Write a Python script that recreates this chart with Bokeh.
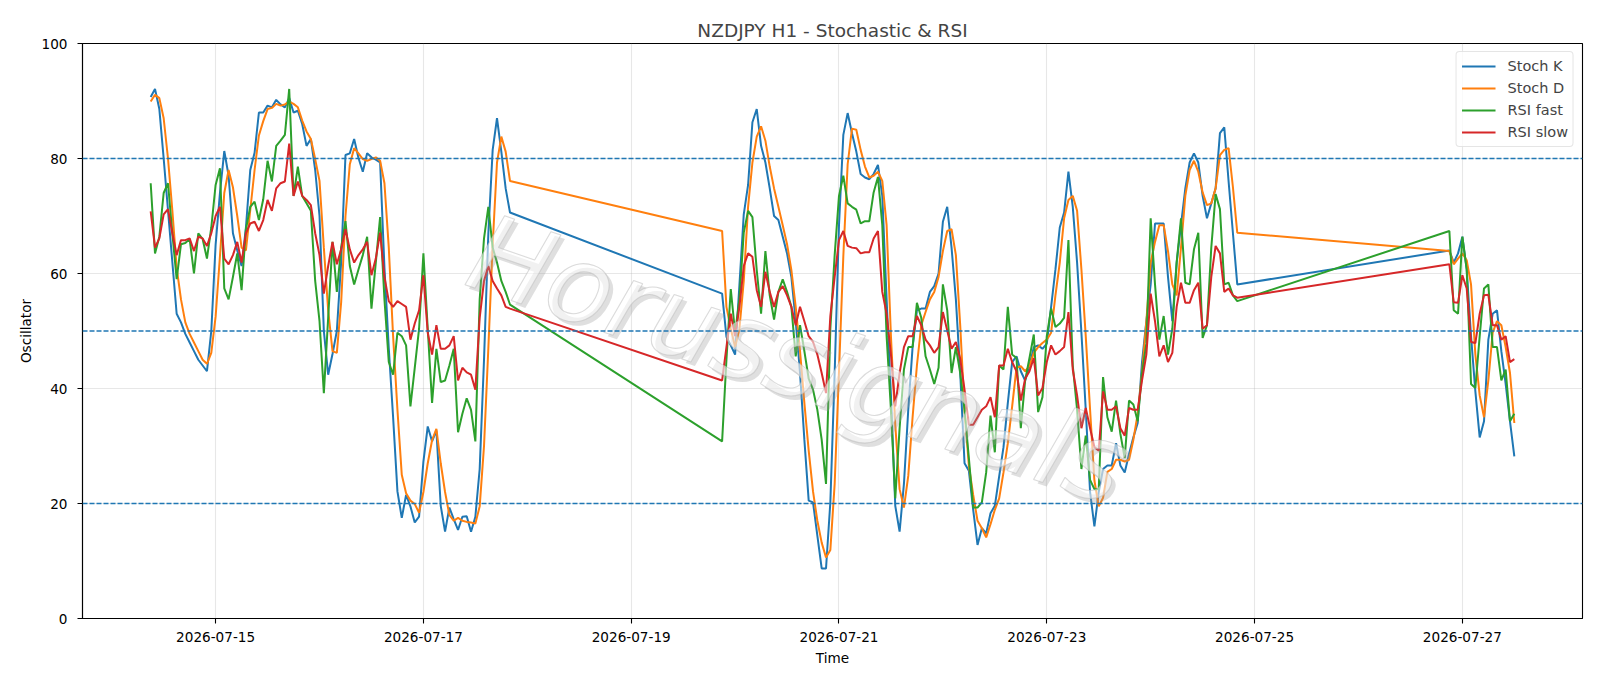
import numpy as np
import pandas as pd
from bokeh.plotting import figure
from bokeh.models import Span, FixedTicker, DatetimeTickFormatter, Range1d, ColumnDataSource
from bokeh.embed import file_html
from bokeh.resources import INLINE
from bokeh.core.properties import value

chart_title = "NZDJPY H1 - Stochastic & RSI"
x_label = "Time"
y_label = "Oscillator"
series_names = ["Stoch K", "Stoch D", "RSI fast", "RSI slow"]
series_colors = ["#1f77b4", "#ff7f0e", "#2ca02c", "#d62728"]
levels = [80, 50, 20]
x_tick_dates = ["2026-07-15", "2026-07-17", "2026-07-19", "2026-07-21",
                "2026-07-23", "2026-07-25", "2026-07-27"]
y_ticks = [0, 20, 40, 60, 80, 100]

# hourly bars, three trading stretches (weekends skipped)
segment_starts = ["2026-07-14 09:00", "2026-07-19 21:00", "2026-07-26 21:00"]
segment_lengths = [84, 120, 16]

stoch_k = [
    90.7, 92.1, 88.6, 80, 71, 62, 53, 51.5, 49.5, 48,
    46.5, 45, 44, 43, 50, 65, 74, 81.3, 77, 67,
    64, 61.3, 68, 78, 81, 88, 88, 89.2, 88.9, 90.2,
    89.4, 88.9, 90.5, 88, 88.3, 86, 82.2, 83.4, 78, 70,
    50, 42.4, 46, 50, 62, 80.6, 80.9, 83.4, 80.1, 77.7,
    80.9, 80.2, 79.8, 79.3, 61, 47, 35, 22.1, 17.5, 21.5,
    19.5, 16.7, 17.7, 27.3, 33.4, 30.8, 32.7, 19.6, 15.1, 19.3,
    17.3, 15.4, 17.7, 17.8, 15.1, 17.7, 26, 45, 67, 81.5,
    87, 81.2, 74.8, 70.6,
    56.5, 49, 47.5, 45.9, 58, 70.3, 75.4, 86.3, 88.6, 82.2,
    79.3, 74.8, 70, 69.3, 66.4, 63.5, 59.4, 51.7, 42.7, 31.1,
    20.5, 20.2, 14.4, 8.7, 8.7, 20.2, 42.7, 68.4, 84.1, 87.9,
    84.4, 81.2, 77.3, 76.7, 76.4, 77.3, 78.9, 73.5, 55.5, 38.8,
    19.6, 15.1, 23.4, 36.3, 47.2, 53.6, 53.9, 53.9, 56.8, 57.8,
    60, 69, 71.6, 64.5, 55.5, 42.7, 27, 25.7, 18.9, 12.8,
    15.7, 14.8, 18.3, 19.6, 24.7, 29.8, 37.5, 44.6, 45.6, 43,
    41.4, 43.9, 47.2, 47.5, 46.9, 47.8, 54.2, 60.7, 68, 70.6,
    77.7, 71.6, 61.9, 49.7, 36.3, 22, 16, 22, 26, 26.6,
    26.6, 30.5, 26.6, 25.4, 28.6, 31.5, 34, 44.6, 51.7, 58.1,
    68.7, 68.7, 68.7, 59.4, 51.7, 61.9, 68.4, 74.8, 79.3, 80.9,
    79.3, 73.5, 69.6, 72.2, 74.8, 84.4, 85.4, 76, 67, 58.1,
    64, 61.9, 63.5, 66.4, 60.7, 49.1, 39.5, 31.5, 34.3, 48.5,
    53, 53.6, 46.5, 40.8, 34.3, 28.2,
]

stoch_d = [
    89.9, 91.1, 90.5, 87, 80, 71, 61, 55.5, 51.5, 49.5,
    48, 46.5, 45, 44.3, 46.2, 52.5, 63, 74, 78, 75,
    70, 64.5, 64, 71, 78, 84, 86.5, 88.6, 88.8, 89.5,
    89.2, 89.4, 89.9, 89.5, 88.9, 86.6, 84.7, 83.4, 79.9, 76.1,
    64.5, 53.6, 46.5, 46.2, 55, 70, 79, 81.8, 80.9, 79.9,
    79.6, 79.9, 80.2, 79.6, 75.7, 64.5, 49.1, 36.3, 25, 21.8,
    20.5, 19.9, 18.4, 22, 27, 31, 33, 27, 22, 18,
    17, 17.5, 17, 16.8, 16.7, 16.5, 19.5, 30, 47, 65,
    79.3, 83.8, 81.2, 76.1,
    67.4, 54.2, 50.4, 47.2, 50.4, 58.7, 71.6, 79.3, 83.8, 85.6,
    83.1, 78.6, 74.8, 71.6, 68.4, 65.1, 60.6, 54.2, 46.5, 37.5,
    29.2, 22.1, 17, 13.2, 10.6, 11.9, 23.4, 43, 63, 79,
    85.2, 85, 81.5, 78.6, 76.7, 77, 77.7, 76.1, 68.4, 49.1,
    33.7, 22.5, 19.3, 24.8, 35, 44, 51, 53.3, 55.5, 56.8,
    59.4, 63.9, 67.4, 67.7, 63.2, 51, 36.3, 26.6, 21.5, 17,
    15.7, 14.1, 16.4, 18.9, 20.9, 25.4, 30.5, 36.9, 43.6, 43.9,
    43, 43.9, 46.2, 47.2, 47.9, 48.5, 49.7, 56.2, 61.9, 69.6,
    72.8, 73.5, 70.9, 60.7, 49.1, 36.3, 24, 19.5, 21, 25.5,
    26, 27.6, 27.6, 27.3, 27.6, 31.1, 35.6, 42.7, 51.7, 61.9,
    65.5, 68.4, 68.4, 63.9, 58.1, 56.2, 64.5, 73.5, 78, 79.6,
    77.7, 74.1, 71.9, 72.2, 74.8, 80.6, 81.5, 81.8, 75, 67.1,
    63.9, 61.6, 62.6, 63.5, 62.3, 58.1, 45.9, 38.8, 35, 41.4,
    49.7, 51.7, 51, 47.2, 42.7, 34,
]

rsi_fast = [
    75.7, 63.5, 66.4, 74, 75.7, 67, 59, 65.1, 65.3, 66,
    60, 67, 66, 62.6, 68, 75.4, 78.3, 57.4, 55.5, 59.4,
    63.5, 57.1, 67.7, 71.6, 72.5, 69.3, 72.9, 79.6, 76, 82.2,
    83.1, 84.1, 92.1, 73.5, 78.6, 73.5, 72.2, 70.9, 58.7, 51.7,
    39.2, 52.3, 65.5, 56.8, 64.5, 69.1, 61.3, 58.1, 60.7, 63.2,
    66.4, 53.9, 61.9, 69.8, 55.5, 44.6, 42.4, 49.7, 49.1, 47.5,
    36.9, 43.6, 50.4, 63.5, 50.4, 37.5, 46.9, 41.1, 41.4, 44,
    46.9, 32.4, 35.6, 38.3, 36.3, 30.8, 55.5, 66.1, 71.6, 64.5,
    61.9, 58.7, 56.8, 54.6,
    30.8, 45, 57.3, 49.7, 55.5, 67.1, 70.9, 69.8, 60.6, 53,
    63.9, 56.2, 52, 56.8, 59, 56.8, 54.2, 45.6, 51, 46.5,
    41.7, 39.8, 36.3, 31.1, 23.4, 50.4, 63.2, 73.5, 77, 72.2,
    71.6, 71.1, 68.7, 69.1, 69.1, 74.1, 76.8, 68.4, 49.1, 36.3,
    20.9, 33.1, 43.3, 47.2, 47.2, 54.9, 52.3, 45.6, 43.3, 40.8,
    43.6, 58.1, 53.6, 42.7, 47.2, 42.7, 36.3, 27.9, 19.3, 19.3,
    20.2, 25.4, 35.3, 28.9, 44, 43.3, 54.2, 45.9, 45.3, 33.1,
    41.4, 45.3, 49.4, 35.9, 38.5, 49.1, 53.9, 50.7, 51.3, 52.3,
    65.8, 44, 36.3, 26, 31.8, 24.1, 22.5, 22.5, 42, 35,
    32.5, 37.9, 32.1, 27.9, 37.9, 37.2, 34.3, 42.7, 47.8, 69.6,
    58.1, 48.5, 52.6, 45.9, 50.4, 61.9, 69.6, 58.4, 58.1, 64.2,
    67.1, 48.8, 51, 64.5, 73.8, 71.2, 58.1, 58.4, 56.2, 55.2,
    67.4, 53.6, 53, 66.4, 60.7, 40.8, 40.1, 49.1, 57.4, 58.1,
    47.2, 47.2, 41.4, 43.3, 34.3, 35.6,
]

rsi_slow = [
    70.8, 64.5, 66.1, 70.3, 71.2, 67, 63.2, 65.8, 65.8, 66.1,
    63.9, 66.4, 66.1, 64.8, 67, 70, 71.6, 62.6, 61.6, 63.2,
    65.5, 61.9, 67, 68.7, 69, 67.4, 69.3, 72.8, 70.9, 74.8,
    75.7, 76, 82.6, 73.5, 76, 73.5, 72.8, 71.9, 67, 63.2,
    56.5, 61.3, 65.5, 61.6, 64.2, 67.7, 64.2, 61.9, 63.2, 64.2,
    65.5, 59.7, 62.6, 67.1, 59.4, 55.2, 54.2, 55.2, 54.7, 54.2,
    48.5, 51.3, 53.6, 59.7, 49.7, 45.9, 51, 46.9, 46.9, 47.5,
    49.1, 41.4, 43.6, 42.8, 42.4, 39.8, 52.3, 58.7, 61.3, 58.7,
    57.4, 56.2, 54.2, 53.9,
    41.4, 47.2, 53, 49.1, 54.2, 61.3, 63.5, 62.9, 57.1, 54.2,
    60.3, 56.8, 54.2, 56.8, 57.8, 56.2, 54.2, 51, 54.2, 51.7,
    49.1, 48.1, 45.9, 42.7, 39.2, 52.6, 59.4, 65.8, 67.4, 64.8,
    64.5, 64.4, 63.5, 63.7, 63.7, 66.1, 67.4, 56.8, 53, 45.9,
    36.9, 42.7, 47.2, 49.1, 49.1, 52.6, 51, 48.5, 47.5, 46.2,
    47.2, 53.3, 50.1, 46.9, 48.1, 45.2, 39.8, 33.7, 33.7, 35,
    36.3, 36.9, 38.5, 35, 44, 44, 46.9, 44.6, 43, 37.9,
    41.7, 43, 45.3, 38.8, 40.1, 44.6, 47.5, 45.9, 46.5, 47.2,
    53.3, 43.3, 38.8, 33.1, 36.6, 33.1, 29.8, 29.2, 39.5, 36.3,
    36.3, 36.9, 33.1, 31.8, 36.6, 36.3, 36.3, 41.4, 45.9, 56.5,
    51.7, 45.6, 47.5, 44.6, 46.2, 54.2, 58.4, 54.9, 54.9, 57.1,
    58.4, 50.4, 51, 59.4, 64.8, 63.5, 56.8, 57.4, 56.2, 55.8,
    61.6, 55, 54.9, 59.7, 57.4, 48.1, 47.9, 53, 56.2, 56.3,
    51, 51, 48.5, 49.1, 44.6, 45.1,
]

watermark_text = "Horussignals"

# ---------------------------------------------------------------------------
times = pd.DatetimeIndex(np.concatenate([
    pd.date_range(s, periods=n, freq="h").values
    for s, n in zip(segment_starts, segment_lengths)
]))

src = ColumnDataSource(dict(t=times, k=stoch_k, d=stoch_d, f=rsi_fast, s=rsi_slow))

t0, t1 = times.min(), times.max()
pad = (t1 - t0) * 0.05
FONT = "DejaVu Sans"

p = figure(width=1600, height=686, x_axis_type="datetime",
           output_backend="svg", toolbar_location=None,
           x_range=Range1d((t0 - pad).to_pydatetime(), (t1 + pad).to_pydatetime()),
           y_range=Range1d(0, 100),
           title=chart_title,
           min_border_left=82, min_border_right=18,
           min_border_top=43, min_border_bottom=68)

p.background_fill_color = "white"
p.border_fill_color = "white"
p.outline_line_color = "black"
p.outline_line_width = 1.1

p.title.text_font = FONT
p.title.text_font_size = "18.5px"
p.title.text_font_style = "normal"
p.title.align = "center"
p.title.standoff = 6

tick_ms = [pd.Timestamp(d).value / 1e6 for d in x_tick_dates]
p.xaxis.ticker = FixedTicker(ticks=tick_ms)
p.xaxis.formatter = DatetimeTickFormatter(
    hours="%Y-%m-%d", days="%Y-%m-%d", months="%Y-%m-%d", years="%Y-%m-%d")
p.yaxis.ticker = FixedTicker(ticks=y_ticks)

for ax in (p.xaxis, p.yaxis):
    ax.axis_line_color = "black"
    ax.axis_line_width = 1.1
    ax.major_tick_line_color = "black"
    ax.major_tick_line_width = 1.1
    ax.major_tick_in = 0
    ax.major_tick_out = 5
    ax.minor_tick_line_color = None
    ax.major_label_text_font = FONT
    ax.major_label_text_font_size = "13.6px"
    ax.major_label_text_color = "black"
    ax.axis_label_text_font = FONT
    ax.axis_label_text_font_size = "13.6px"
    ax.axis_label_text_font_style = "normal"
    ax.axis_label_text_color = "black"

p.xaxis.axis_label = x_label
p.yaxis.axis_label = y_label
p.xaxis.major_label_standoff = 8
p.yaxis.major_label_standoff = 10
p.xaxis.axis_label_standoff = 5
p.yaxis.axis_label_standoff = 5

p.xgrid.grid_line_color = "#b0b0b0"
p.ygrid.grid_line_color = "#b0b0b0"
p.xgrid.grid_line_alpha = 0.3
p.ygrid.grid_line_alpha = 0.3
p.xgrid.grid_line_width = 1.1
p.ygrid.grid_line_width = 1.1

for lv in levels:
    p.add_layout(Span(location=lv, dimension="width", line_color="#1f77b4",
                      line_dash="5 2", line_width=1.4))

for col, name, color in zip(["k", "d", "f", "s"], series_names, series_colors):
    p.line(x="t", y=col, source=src, line_color=color, line_width=2.0,
           legend_label=name)

# watermark
wm_x = pd.Timestamp("2026-07-20 14:40")
wm_y = 45.0
wm_angle = -0.33
wm_size = "107px"
p.text(x=[wm_x], y=[wm_y], text=[watermark_text],
       x_offset=4, y_offset=4,
       text_font=value(FONT), text_font_size=wm_size, text_font_style="italic",
       text_color="#9a9a9a", text_alpha=0.32,
       text_align="center", text_baseline="middle", angle=wm_angle)
p.text(x=[wm_x], y=[wm_y], text=[watermark_text],
       text_font=value(FONT), text_font_size=wm_size, text_font_style="italic",
       text_color="white", text_alpha=0.55,
       text_outline_color="#bdbdbd",
       text_align="center", text_baseline="middle", angle=wm_angle)

lg = p.legend[0]
lg.location = "top_right"
lg.margin = 8
lg.padding = 5
lg.spacing = 4
lg.glyph_width = 34
lg.glyph_height = 18
lg.label_height = 18
lg.label_standoff = 12
lg.label_text_font = FONT
lg.label_text_font_size = "14.5px"
lg.border_line_color = "#cccccc"
lg.border_line_width = 1
lg.border_radius = 4
lg.background_fill_alpha = 0.8

open("out.html", "w").write(file_html(p, INLINE))
